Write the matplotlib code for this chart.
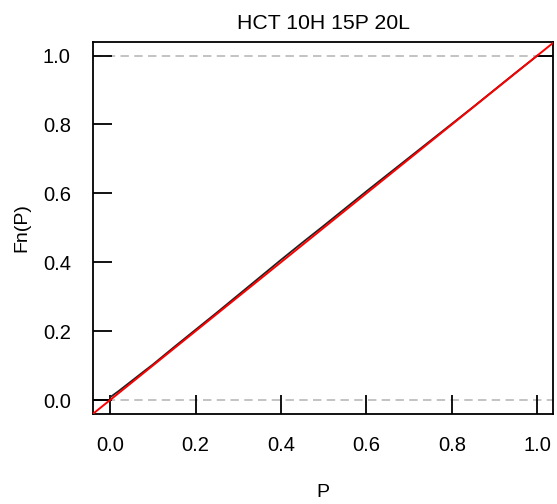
import matplotlib.pyplot as plt

plt.rcParams['font.family'] = ['Liberation Sans', 'DejaVu Sans']

# ECDF of P values
p_vals = [0.00, 0.00, 0.02, 0.05, 0.08, 0.10, 0.15, 0.20, 0.25, 0.30, 0.35, 0.40,
          0.45, 0.50, 0.55, 0.60, 0.65, 0.70, 0.75, 0.80, 0.85, 0.90, 0.95, 1.00]
fn_vals = [0.000, 0.008, 0.026, 0.055, 0.084, 0.103, 0.154, 0.204, 0.254, 0.305, 0.356, 0.407,
           0.457, 0.506, 0.556, 0.606, 0.655, 0.704, 0.753, 0.802, 0.851, 0.901, 0.951, 1.000]
ticks = [0.0, 0.2, 0.4, 0.6, 0.8, 1.0]
title = "HCT 10H 15P 20L"

fig = plt.figure(figsize=(5.57, 5.04), dpi=100)
ax = fig.add_axes([0.167, 0.179, 0.826, 0.738])

lo, hi = -0.04, 1.04
ax.set_xlim(lo, 1.037)
ax.set_ylim(lo, hi)

# reference lines at 0 and 1
for yv in (0.0, 1.0):
    ax.axhline(yv, color='#b3b3b3', lw=1.1, dashes=(5.5, 3.5), zorder=1)

# ECDF with flat tails
ax.plot([lo, p_vals[0]], [0, 0], color='black', lw=1.4, zorder=2)
ax.plot(p_vals, fn_vals, color='#222222', lw=1.3, zorder=2)
ax.plot([p_vals[-1], 1.1], [1, 1], color='black', lw=1.4, zorder=2)

# y = x
ax.plot([lo, 1.1], [lo, 1.1], color='red', lw=1.4, zorder=3)

ax.set_xticks(ticks)
ax.set_yticks(ticks)
ax.set_xticklabels([f"{t:.1f}" for t in ticks])
ax.set_yticklabels([f"{t:.1f}" for t in ticks])
ax.tick_params(direction='in', length=14, width=1.3, labelsize=14.5, pad=16,
               colors='black')
for s in ax.spines.values():
    s.set_linewidth(1.3)

ax.set_xlabel("P", fontsize=14, labelpad=21)
ax.set_ylabel("Fn(P)", fontsize=14, labelpad=9)
ax.set_title(title, fontsize=15.3, pad=9)

fig.savefig("out.png", dpi=100)
